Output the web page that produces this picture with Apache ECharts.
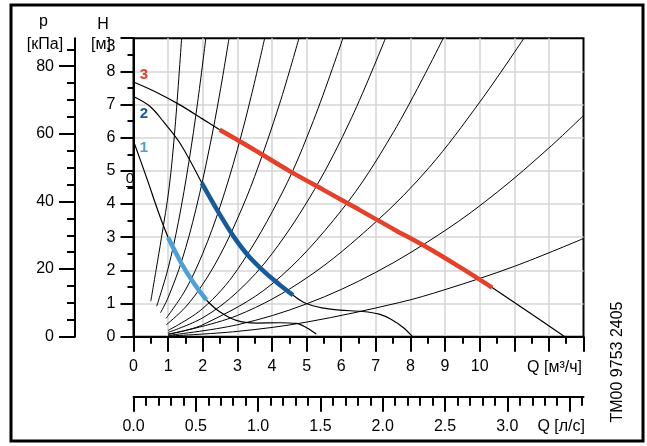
<!DOCTYPE html>
<html><head><meta charset="utf-8">
<script src="https://cdn.jsdelivr.net/npm/echarts@6/dist/echarts.min.js"></script>
<style>html,body{margin:0;padding:0;background:#fff}#c{width:647px;height:446px}</style>
</head><body><div id="c"></div>
<script>
// ---- tick data ----
const qLabelMax = 10;            // m3/h labels shown 0..10
const hLabelMax = 8;             // H labels shown 0..8
const pMajor = [0, 20, 40, 60, 80];
const pMinor = [5, 10, 15, 25, 30, 35, 45, 50, 55, 65, 70, 75, 85];
const lsMajor = [0, 0.5, 1, 1.5, 2, 2.5, 3, 3.5];
const lsMinor = [0.1,0.2,0.3,0.4,0.6,0.7,0.8,0.9,1.1,1.2,1.3,1.4,1.6,1.7,1.8,1.9,2.1,2.2,2.3,2.4,2.6,2.7,2.8,2.9,3.1,3.2,3.3,3.4,3.6];
const lsLabels = [0, 0.5, 1, 1.5, 2, 2.5, 3];

// ---- system (fan) curves [Q m3/h, H m] ----
const fan1 = [[0.50,1.07],[0.65,2.0],[0.81,3.0],[1.03,4.5],[1.2,6.3],[1.39,9.0]];
const fan2 = [[0.67,0.92],[1.0,2.06],[1.3,3.48],[1.6,5.27],[1.85,7.05],[2.09,9.0]];
const fan3 = [[0.78,0.72],[1.0,1.18],[1.4,2.31],[1.8,3.83],[2.2,5.72],[2.5,7.38],[2.76,9.0]];
const fan4 = [[0.94,0.55],[1.5,1.41],[2.0,2.51],[2.5,3.92],[3.0,5.64],[3.4,7.25],[3.79,9.0]];
const fan5 = [[0.95,0.36],[1.5,0.89],[2.0,1.58],[2.5,2.46],[3.0,3.55],[3.5,4.83],[4.22,7.02],[4.78,9.0]];
const fan6 = [[1.0,0.19],[2.0,0.85],[3.0,2.02],[4.32,4.39],[5.2,6.52],[6.05,9.0]];
const fan7 = [[1.0,0.13],[2.0,0.57],[3.0,1.35],[4.0,2.50],[5.23,4.44],[6.3,6.6],[7.28,9.0]];
const fan8 = [[1.0,0.08],[2.0,0.36],[4.0,1.59],[6.0,3.80],[7.5,6.15],[8.95,9.0]];
const fan9 = [[1.0,0.07],[3.0,0.64],[5.0,1.77],[7.0,3.46],[8.54,5.1],[10.0,7.07],[11.28,9.0]];
const fan10 = [[1.0,0.04],[3.0,0.36],[5.0,0.99],[7.0,1.94],[9.0,3.2],[10.51,4.36],[12.0,5.69],[13.0,6.67]];
const fan11 = [[1.0,0.02],[3.0,0.16],[5.0,0.44],[7.68,1.03],[9.0,1.42],[11.0,2.12],[13.0,2.96]];

// ---- pump curves ----
const pump3Head = [[0,7.68],[0.6,7.4],[1.34,6.99],[2.0,6.56],[2.49,6.24]];
const pump3Duty = [[2.49,6.24],[3.45,5.66],[4.5,5.0],[5.5,4.42],[6.5,3.84],[7.5,3.25],[8.5,2.68],[9.5,2.05],[10.36,1.48]];
const pump3Tail = [[10.36,1.48],[11.4,0.75],[12.46,0]];
const pump2Head = [[0,7.24],[0.48,6.94],[0.86,6.49],[1.34,5.84],[1.97,4.64]];
const pump2Duty = [[1.97,4.64],[2.49,3.69],[2.88,3.04],[3.31,2.45],[3.84,1.90],[4.22,1.57],[4.61,1.25]];
const pump2Tail = [[4.61,1.25],[4.99,1.0],[5.5,0.86],[5.95,0.80],[6.62,0.76],[7.1,0.68],[7.45,0.52],[7.8,0.27],[8.06,0]];
const pump1Head = [[0,5.9],[0.38,4.79],[0.76,3.64],[1.0,2.99]];
const pump1Duty = [[1.0,2.99],[1.39,2.20],[1.72,1.65],[2.11,1.10]];
const pump1Tail = [[2.11,1.10],[2.49,0.75],[2.97,0.49],[3.55,0.41],[4.22,0.42],[4.7,0.40],[5.0,0.27],[5.28,0.08]];

const Q_MAX = 13, H_MAX = 9;
const P_MAX = H_MAX * 9.81;
const LS_MAX = Q_MAX / 3.6;

const FONT = "'Liberation Sans', Arial, sans-serif";
const RED = '#e5402a', DBLUE = '#175a9c', LBLUE = '#4aa0d8';
const G = {left: 133.5, top: 38.2, width: 450, height: 298.5};

const chart = echarts.init(document.getElementById('c'), null, {renderer: 'canvas'});
const blk = {color: '#000', width: 2};
function line(data, color, width, z) {
  return {type: 'line', data, symbol: 'none', showSymbol: false, smooth: 0.35,
          lineStyle: {color, width}, silent: true, z: z || 3, xAxisIndex: 0, yAxisIndex: 0};
}
const series = [fan1,fan2,fan3,fan4,fan5,fan6,fan7,fan8,fan9,fan10,fan11].map(d => line(d, '#000', 1));
series.push(line(pump3Head,'#000',1.2), line(pump3Tail,'#000',1.2),
            line(pump2Head,'#000',1.2), line(pump2Tail,'#000',1.2),
            line(pump1Head,'#000',1.2), line(pump1Tail,'#000',1.2),
            line(pump3Duty,RED,4.5,5), line(pump2Duty,DBLUE,4.5,5), line(pump1Duty,LBLUE,4.5,5));

const lbl = {color: '#000', fontSize: 16, fontFamily: FONT};
const option = {
  animation: false,
  backgroundColor: '#fff',
  grid: {left: G.left, top: G.top, width: G.width, height: G.height, show: true, borderColor: '#000', borderWidth: 2, backgroundColor: 'transparent'},
  xAxis: [
    {type: 'value', min: 0, max: Q_MAX, interval: 1, position: 'bottom',
     axisLine: {onZero: false, lineStyle: blk}, axisTick: {length: 15, lineStyle: blk},
     minorTick: {show: true, splitNumber: 2, length: 7, lineStyle: blk},
     axisLabel: Object.assign({margin: 22, formatter: v => v <= qLabelMax ? String(v) : ''}, lbl),
     splitLine: {show: true, showMinLine: false, showMaxLine: false, lineStyle: {color: '#d6d6d6', width: 1.6}}},
    {type: 'value', min: 0, max: LS_MAX, position: 'bottom', offset: 60,
     axisLine: {show: true, onZero: false, lineStyle: blk}, axisTick: {show: true, length: 15, lineStyle: blk, customValues: lsMajor},
     axisLabel: Object.assign({margin: 22, customValues: lsLabels, formatter: v => v.toFixed(1)}, lbl),
     splitLine: {show: false}},
    {type: 'value', min: 0, max: LS_MAX, position: 'bottom', offset: 60,
     axisLine: {show: false, onZero: false}, axisTick: {show: true, length: 9, lineStyle: blk, customValues: lsMinor},
     axisLabel: {show: false}, splitLine: {show: false}}
  ],
  yAxis: [
    {type: 'value', min: 0, max: H_MAX, interval: 1, position: 'left',
     axisLine: {onZero: false, lineStyle: blk}, axisTick: {length: 13, lineStyle: blk},
     minorTick: {show: true, splitNumber: 2, length: 6, lineStyle: blk},
     axisLabel: Object.assign({margin: 18, formatter: v => v <= hLabelMax ? String(v) : ''}, lbl),
     splitLine: {show: true, showMinLine: false, showMaxLine: false, lineStyle: {color: '#d6d6d6', width: 1.6}}},
    {type: 'value', min: 0, max: P_MAX, position: 'left', offset: 58.5,
     axisLine: {show: true, onZero: false, lineStyle: blk}, axisTick: {show: true, length: 16, lineStyle: blk, customValues: pMajor},
     axisLabel: Object.assign({margin: 21, customValues: pMajor}, lbl),
     splitLine: {show: false}},
    {type: 'value', min: 0, max: P_MAX, position: 'left', offset: 58.5,
     axisLine: {show: false, onZero: false}, axisTick: {show: true, length: 8, lineStyle: blk, customValues: pMinor},
     axisLabel: {show: false}, splitLine: {show: false}}
  ],
  series,
  graphic: [
    {type: 'rect', shape: {x: 11, y: 5, width: 632, height: 436}, style: {fill: 'none', stroke: '#000', lineWidth: 3}, z: 100, silent: true},
    {type: 'text', x: 43.5, y: 22, style: {text: 'p', fontSize: 16, fontFamily: FONT, fill: '#000', textAlign: 'center', textVerticalAlign: 'middle'}},
    {type: 'text', x: 45, y: 45, style: {text: '[кПа]', fontSize: 16, fontFamily: FONT, fill: '#000', textAlign: 'center', textVerticalAlign: 'middle'}},
    {type: 'text', x: 103, y: 25, style: {text: 'H', fontSize: 16, fontFamily: FONT, fill: '#000', textAlign: 'center', textVerticalAlign: 'middle'}},
    {type: 'text', x: 101, y: 45, style: {text: '[м]', fontSize: 16, fontFamily: FONT, fill: '#000', textAlign: 'center', textVerticalAlign: 'middle'}},
    {type: 'text', x: 111, y: 47, style: {text: '3', fontSize: 16, fontFamily: FONT, fill: '#000', textAlign: 'center', textVerticalAlign: 'middle'}},
    {type: 'text', x: 130, y: 179, style: {text: '0', fontSize: 15, fontFamily: FONT, fill: '#000', textAlign: 'center', textVerticalAlign: 'middle'}},
    {type: 'line', shape: {x1: 126, y1: 186.5, x2: 135, y2: 186.5}, style: {stroke: '#000', lineWidth: 1}},
    {type: 'text', x: 144, y: 75, z: 50, style: {text: '3', fontSize: 15, fontWeight: 'bold', fontFamily: FONT, fill: RED, textAlign: 'center', textVerticalAlign: 'middle'}},
    {type: 'text', x: 144, y: 114, z: 50, style: {text: '2', fontSize: 15, fontWeight: 'bold', fontFamily: FONT, fill: DBLUE, textAlign: 'center', textVerticalAlign: 'middle'}},
    {type: 'text', x: 144, y: 148, z: 50, style: {text: '1', fontSize: 15, fontWeight: 'bold', fontFamily: FONT, fill: LBLUE, textAlign: 'center', textVerticalAlign: 'middle'}},
    {type: 'text', x: 582, y: 368, style: {text: 'Q [м³/ч]', fontSize: 16, fontFamily: FONT, fill: '#000', textAlign: 'right', textVerticalAlign: 'middle'}},
    {type: 'text', x: 585, y: 427, style: {text: 'Q [л/с]', fontSize: 16, fontFamily: FONT, fill: '#000', textAlign: 'right', textVerticalAlign: 'middle'}},
    {type: 'text', x: 618, y: 362, rotation: Math.PI / 2, style: {text: 'TM00 9753 2405', fontSize: 16, fontFamily: FONT, fill: '#000', textAlign: 'center', textVerticalAlign: 'middle'}}
  ]
};
chart.setOption(option);
</script>
</body></html>
